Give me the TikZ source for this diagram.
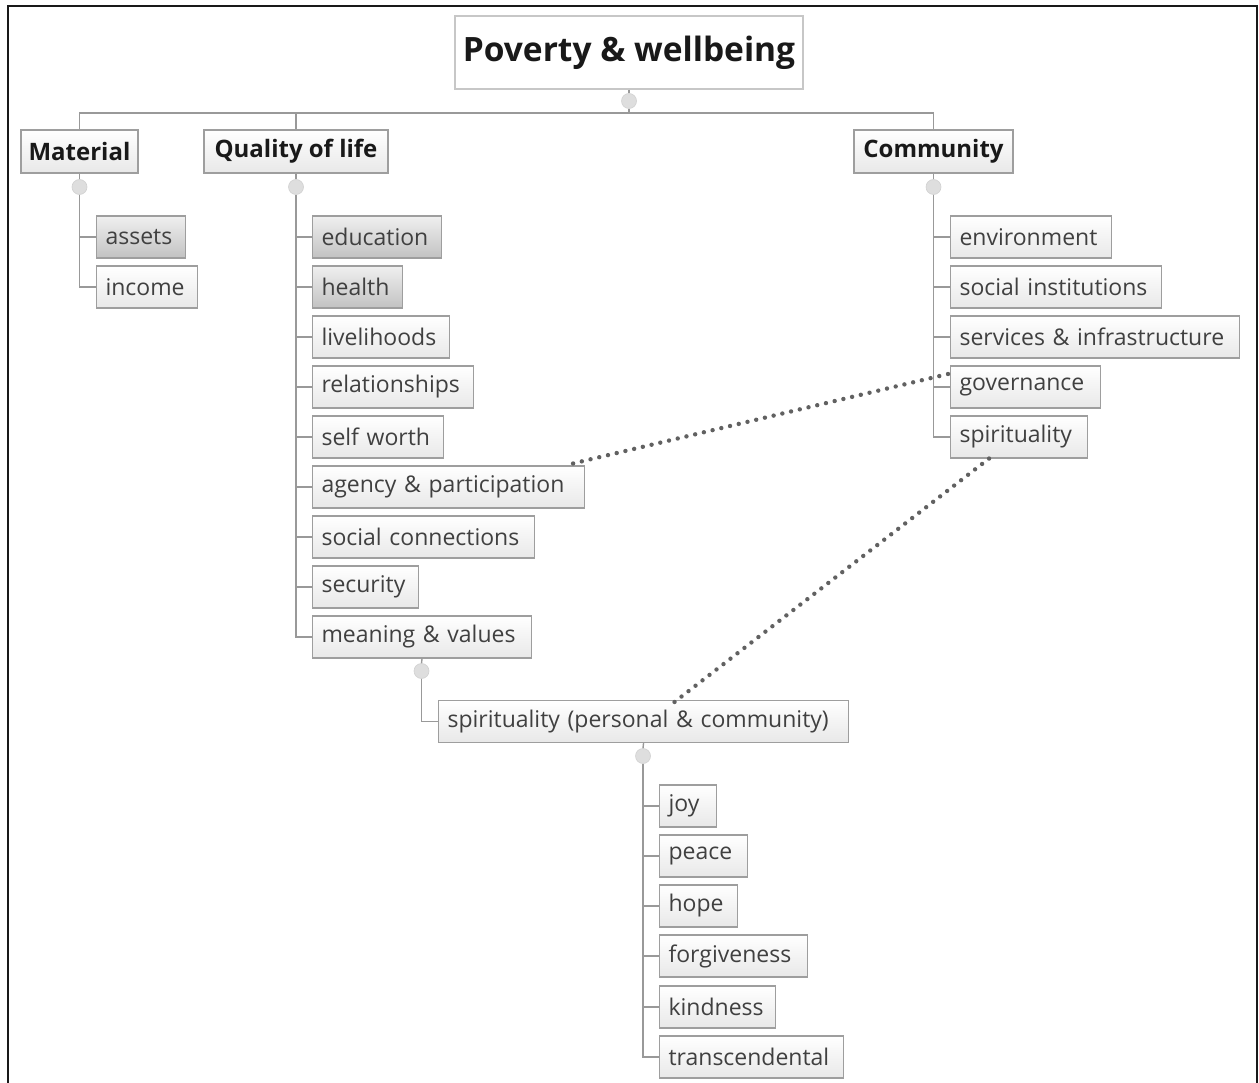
\documentclass[tikz,border=0pt]{standalone}
\usepackage{fontspec}
\setmainfont{Open Sans}
\usetikzlibrary{calc}
\begin{document}
\begin{tikzpicture}[x=1pt,y=-1pt,
  box/.style={draw=black!38, line width=1.1pt, top color=white, bottom color=black!9,
    text=black!75, font=\fontsize{23}{26}\selectfont, inner xsep=9pt, inner ysep=0pt,
    minimum height=42pt, anchor=west, align=left, text width=#1},
  box/.default=60pt,
  darkbox/.style={box=#1, top color=black!6, bottom color=black!24},
  catbox/.style={draw=black!38, line width=1.1pt, top color=white, bottom color=black!9,
    text=black!90, font=\bfseries\fontsize{24}{28}\selectfont, inner sep=0pt,
    minimum height=43pt, anchor=center},
  knob/.style={circle, fill=black!13, draw=black!18, line width=0.6pt, minimum size=15pt, inner sep=0pt},
  tree/.style={draw=black!40, line width=1.4pt},
  linkdot/.style={fill=black!62}
]
\useasboundingbox (0,0) rectangle (1259,1083);
\fill[white] (0,0) rectangle (1259,1083);
% outer frame
\draw[line width=2.2pt, black!90] (8,1083) -- (8,6) -- (1257,6) -- (1257,1083);

% root
\node[catbox, font=\bfseries\fontsize{33.5}{38}\selectfont, minimum width=348pt, minimum height=73pt,
      bottom color=white, draw=black!22] (root) at (629,52.5) {Poverty \& wellbeing};
\node[knob] (rootk) at (629,101) {};

% categories
\node[catbox, minimum width=117pt] (mat) at (79.5,151.5) {Material};
\node[catbox, minimum width=184pt] (qol) at (296,151.5) {Quality of life};
\node[catbox, minimum width=159pt] (com) at (933.5,151.5) {Community};
\node[knob] (matk) at (79.5,187) {};
\node[knob] (qolk) at (296,187) {};
\node[knob] (comk) at (933.5,187) {};

% material
\node[darkbox=71pt] (assets) at (96,237) {assets};
\node[box=83pt]     (income) at (96,287) {income};

% quality of life
\node[darkbox=111pt] (edu)  at (312,237) {education};
\node[darkbox=72pt]  (hea)  at (312,287) {health};
\node[box=119pt] (liv)  at (312,337) {livelihoods};
\node[box=143pt] (rel)  at (312,387) {relationships};
\node[box=113pt] (self) at (312,437) {self worth};
\node[box=254pt] (agen) at (312,487) {agency \& participation};
\node[box=204pt] (soc)  at (312,537) {social connections};
\node[box=88pt]  (sec)  at (312,587) {security};
\node[box=201pt] (mean) at (312,637) {meaning \& values};
\node[knob] (meank) at (421.5,671) {};

% spirituality (personal & community)
\node[box=392pt] (spp) at (438,721.5) {spirituality (personal \& community)};
\node[knob] (sppk) at (643,756) {};
\node[box=39pt]  (joy)  at (659,806)  {joy};
\node[box=70pt]  (pea)  at (659,856)  {peace};
\node[box=60pt]  (hop)  at (659,906)  {hope};
\node[box=130pt] (forg) at (659,956)  {forgiveness};
\node[box=98pt]  (kind) at (659,1007) {kindness};
\node[box=166pt] (tran) at (659,1057) {transcendental};

% community
\node[box=143pt] (env)  at (950,237) {environment};
\node[box=193pt] (inst) at (950,287) {social institutions};
\node[box=271pt] (serv) at (950,337) {services \& infrastructure};
\node[box=132pt] (gov)  at (950,387) {governance};
\node[box=119pt] (spc)  at (950,437) {spirituality};

% tree lines
\coordinate (bar) at (0,113);
\draw[tree] (root.south) -- (rootk.north);
\draw[tree] (rootk.south) -- (rootk |- bar);
\draw[tree] (mat.north) -- (mat.north |- bar) -- (com.north |- bar) -- (com.north);
\draw[tree] (qol.north |- bar) -- (qol.north);
\foreach \k/\p in {matk/mat, qolk/qol, comk/com, meank/mean, sppk/spp}
  \draw[tree] (\p.south) -- (\k.north);

\draw[tree] (matk.south) |- (income.west);
\draw[tree] (matk |- assets.west) -- (assets.west);

\draw[tree] (qolk.south) |- (mean.west);
\foreach \c in {edu,hea,liv,rel,self,agen,soc,sec}
  \draw[tree] (qolk |- \c.west) -- (\c.west);

\draw[tree] (meank.south) |- (spp.west);

\draw[tree] (sppk.south) |- (tran.west);
\foreach \c in {joy,pea,hop,forg,kind}
  \draw[tree] (sppk |- \c.west) -- (\c.west);

\draw[tree] (comk.south) |- (spc.west);
\foreach \c in {env,inst,serv,gov}
  \draw[tree] (comk |- \c.west) -- (\c.west);

% dotted cross links, one dot at a time
\coordinate (l1a) at ([xshift=-12pt,yshift=2pt]agen.north east);
\coordinate (l1b) at ([xshift=-2pt,yshift=13pt]gov.west);
\coordinate (l2a) at ([xshift=-30pt]spc.south);
\coordinate (l2b) at ([xshift=31pt,yshift=-2pt]spp.north);
\foreach \i in {0,...,43}
  \fill[linkdot] ($(l1a)!\i/43!(l1b)$) circle (2.2pt);
\foreach \i in {0,...,45}
  \fill[linkdot] ($(l2a)!\i/45!(l2b)$) circle (2.2pt);
\end{tikzpicture}
\end{document}
